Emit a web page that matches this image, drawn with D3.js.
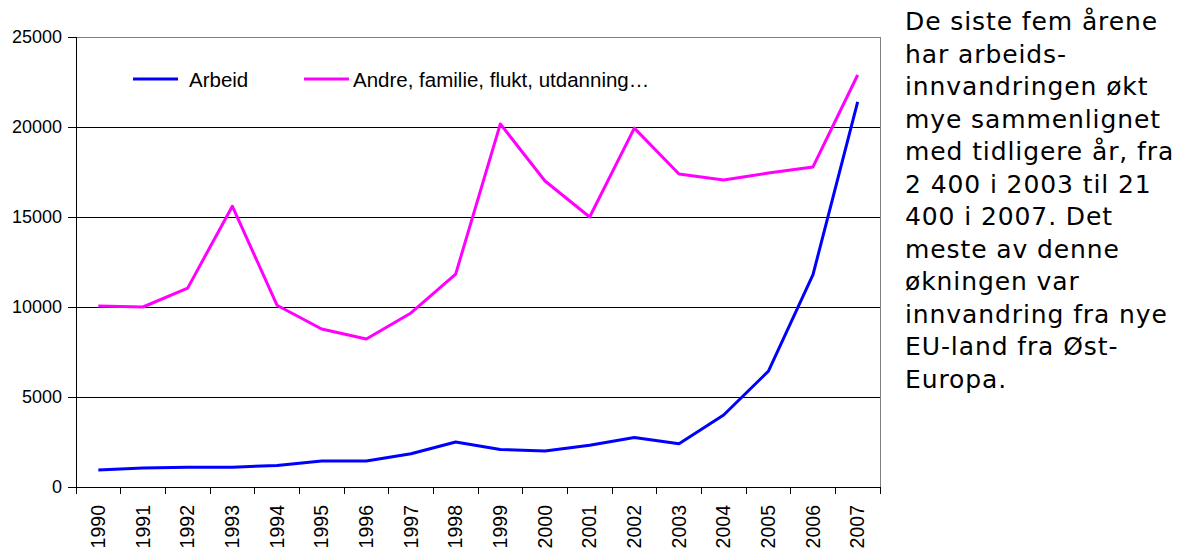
<!DOCTYPE html>
<html><head><meta charset="utf-8">
<script src="https://cdn.jsdelivr.net/npm/d3@7"></script>
<style>body{margin:0;background:#fff}</style>
</head><body>
<svg id="c" width="1185" height="553"></svg>
<script>
const years = ["1990","1991","1992","1993","1994","1995","1996","1997","1998","1999","2000","2001","2002","2003","2004","2005","2006","2007"];
const arbeid = [950,1050,1100,1100,1200,1450,1450,1850,2500,2080,2000,2320,2750,2400,4000,6430,11800,21400];
const andre = [10050,10000,11050,15600,10100,8780,8220,9670,11830,20170,17000,15000,19940,17390,17060,17440,17780,22890];
const yTicks = [0,5000,10000,15000,20000,25000];
const seriesNames = ["Arbeid","Andre, familie, flukt, utdanning…"];
const colors = ["#0000ff","#ff00ff"];
const noteLines = ["De siste fem årene","har arbeids-","innvandringen økt","mye sammenlignet","med tidligere år, fra","2 400 i 2003 til 21","400 i 2007. Det","meste av denne","økningen var","innvandring fra nye","EU-land fra Øst-","Europa."];

const svg = d3.select("#c");
const L=76,R=880,T=37,B=487;
const x = d3.scaleBand().domain(years).range([L,R]);
const y = d3.scaleLinear().domain([0,25000]).range([B,T]);
const font = "Liberation Sans, Arial, sans-serif";

// grid
svg.append("g").selectAll("line").data(yTicks.filter(d=>d>0)).join("line")
  .attr("x1",L).attr("x2",R).attr("y1",d=>y(d)).attr("y2",d=>y(d))
  .attr("stroke",d=>d===25000?"#808080":"#000").attr("stroke-width",1).attr("shape-rendering","crispEdges");
svg.append("line").attr("x1",R).attr("x2",R).attr("y1",T).attr("y2",B).attr("stroke","#808080").attr("shape-rendering","crispEdges");

// y axis
const ya = svg.append("g").attr("transform",`translate(${L},0)`)
  .call(d3.axisLeft(y).tickValues(yTicks).tickSize(8).tickPadding(6).tickFormat(d3.format("d")));
ya.select(".domain").attr("stroke","#000");
ya.selectAll("line").attr("stroke","#000");
ya.selectAll("text").attr("font-family",font).attr("font-size",18).attr("fill","#000");
ya.attr("shape-rendering","crispEdges");

// x axis
const xa = svg.append("g").attr("transform",`translate(0,${B})`)
  .call(d3.axisBottom(x).tickSize(0).tickSizeOuter(0));
xa.select(".domain").attr("stroke","#000").attr("shape-rendering","crispEdges");
xa.selectAll(".tick line").remove();
svg.append("g").selectAll("line").data(years.concat(["end"])).join("line")
  .attr("x1",(d,i)=>L+i*x.step()).attr("x2",(d,i)=>L+i*x.step())
  .attr("y1",B).attr("y2",B+7).attr("stroke","#000").attr("shape-rendering","crispEdges");
xa.selectAll("text").attr("font-family",font).attr("font-size",19.5).attr("fill","#000")
  .attr("transform","rotate(-90)").attr("text-anchor","end").attr("dy","0.35em")
  .attr("x",-18).attr("y",0);

// lines
const line = d3.line().x((d,i)=>x(years[i])+x.bandwidth()/2).y(d=>y(d));
[arbeid,andre].forEach((s,k)=>{
  svg.append("path").datum(s).attr("d",line).attr("fill","none")
    .attr("stroke",colors[k]).attr("stroke-width",3).attr("stroke-linejoin","round");
});

// legend
const lg = [{x:133,tx:189},{x:304,tx:353}];
seriesNames.forEach((n,k)=>{
  svg.append("line").attr("x1",lg[k].x).attr("x2",lg[k].x+45).attr("y1",79).attr("y2",79)
    .attr("stroke",colors[k]).attr("stroke-width",3);
  svg.append("text").attr("x",lg[k].tx).attr("y",87).text(n)
    .attr("font-family",font).attr("font-size",20.5).attr("fill","#000");
});

// note
svg.append("g").selectAll("text").data(noteLines).join("text")
  .attr("x",905).attr("y",(d,i)=>30+i*32.5).text(d=>d)
  .attr("font-family","DejaVu Sans, Verdana, sans-serif").attr("font-size",25)
  .attr("letter-spacing",0.9).attr("fill","#000");
</script>
</body></html>
